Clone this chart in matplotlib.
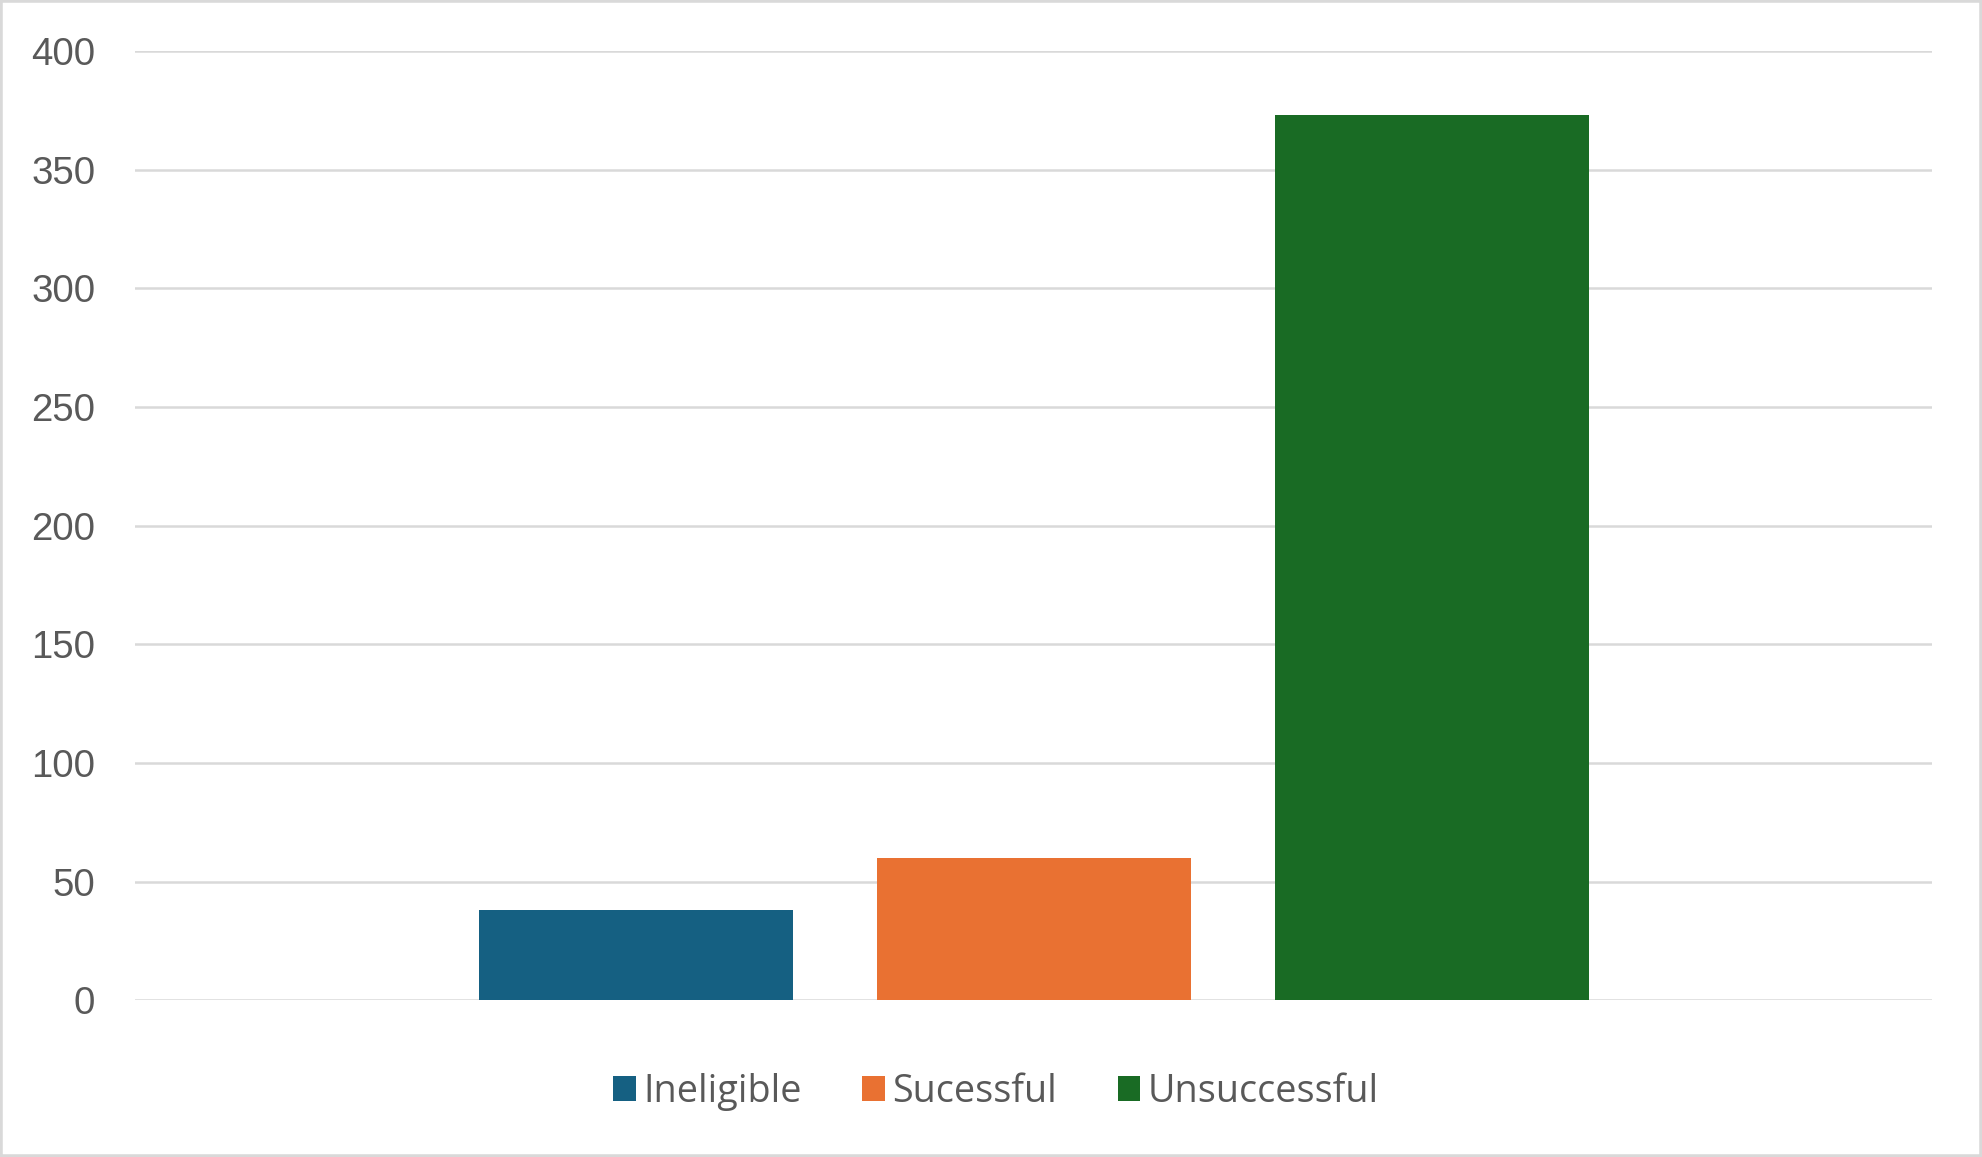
import matplotlib.pyplot as plt
from matplotlib.patches import Rectangle

# data
series = ['Ineligible', 'Sucessful', 'Unsuccessful']
values = [38, 60, 373]
colors = ['#156082', '#E97132', '#196B24']
y_ticks = [0, 50, 100, 150, 200, 250, 300, 350, 400]

text_color = '#595959'
grid_color = '#D9D9D9'
plt.rcParams['font.family'] = ['Liberation Sans', 'DejaVu Sans']

fig = plt.figure(figsize=(9.91, 5.785), dpi=200)
ax = fig.add_axes([0.0683, 0.1354, 0.975 - 0.0683, 0.9559 - 0.1354])

# one category, three series side by side
spacing = 1.2675
for i, (name, v, c) in enumerate(zip(series, values, colors)):
    ax.bar((i - 1) * spacing, v, width=1.0, color=c, label=name, zorder=3)

ax.set_xlim(-2.862, 2.862)
ax.set_ylim(0, 400)
ax.set_yticks(y_ticks)
ax.set_xticks([])
ax.yaxis.grid(True, color=grid_color, lw=0.9, zorder=0)
ax.tick_params(axis='y', length=0, pad=14.4, labelsize=13.8, labelcolor=text_color)
for s in ax.spines.values():
    s.set_visible(False)

fig.legend(loc='center', bbox_to_anchor=(996 / 1982, 1 - 1092 / 1157),
           ncol=3, frameon=False, labelcolor=text_color,
           prop={'family': ['Open Sans', 'DejaVu Sans'], 'size': 13.6},
           handlelength=0.6, handleheight=0.62, handletextpad=0.2,
           columnspacing=1.6, borderpad=0)

# outer frame
fig.patches.append(Rectangle((0, 0), 1, 1, transform=fig.transFigure,
                             fill=False, edgecolor=grid_color, lw=2))

fig.savefig('out.png', dpi=200, facecolor='white')
